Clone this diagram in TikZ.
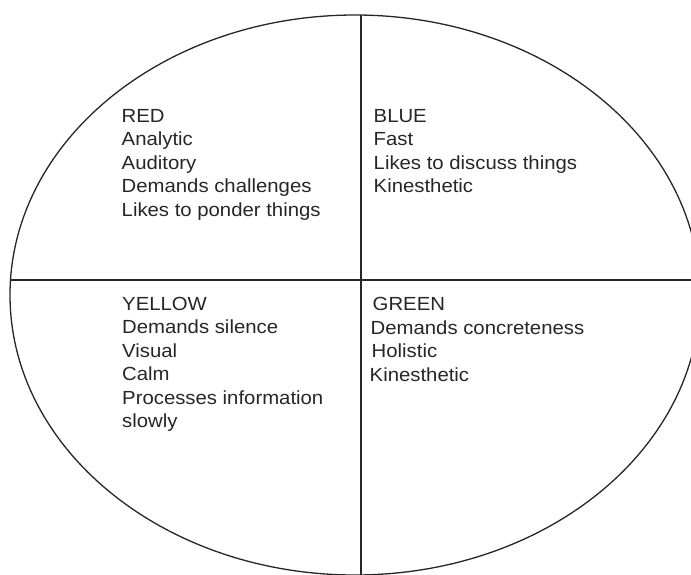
\documentclass[tikz,border=0pt]{standalone}
\usepackage{fontspec}
\setmainfont[FakeStretch=1.07]{Liberation Sans}
\usetikzlibrary{shapes.geometric}
\tikzset{
  stroke/.style={line width=1.3pt, draw=black!85},
  quad/.style={anchor=base west, align=left, inner sep=0pt, text=black!85,
    font=\fontsize{19pt}{23.4pt}\selectfont}
}
\begin{document}
\begin{tikzpicture}[x=1pt,y=-1pt]
\useasboundingbox (0,0) rectangle (691,574);
\clip (0,0) rectangle (691,574);
\node[stroke, ellipse, minimum width=690pt, minimum height=560pt, inner sep=0pt] (oval) at (355,295) {};
\coordinate (vt) at (361,15);
\coordinate (vb) at (361,590);
\coordinate (hl) at (10,280);
\coordinate (hr) at (700,280);
\draw[stroke] (vt) -- (vb);
\draw[stroke] (hl) -- (hr);
% base anchor = baseline of the last line
\node[quad] (red) at (121.5,216) {RED\\Analytic\\Auditory\\Demands challenges\\Likes to ponder things};
\node[quad] (blue) at (373.5,192.5) {BLUE\\Fast\\Likes to discuss things\\Kinesthetic};
\node[quad] (yellow) at (122,427.5) {YELLOW\\Demands silence\\Visual\\Calm\\Processes information\\slowly};
\node[quad] (green) at (372.5,381) {GREEN\\\hspace*{-2pt}Demands concreteness\\\hspace*{-1pt}Holistic\\\hspace*{-3pt}Kinesthetic};
\end{tikzpicture}
\end{document}
